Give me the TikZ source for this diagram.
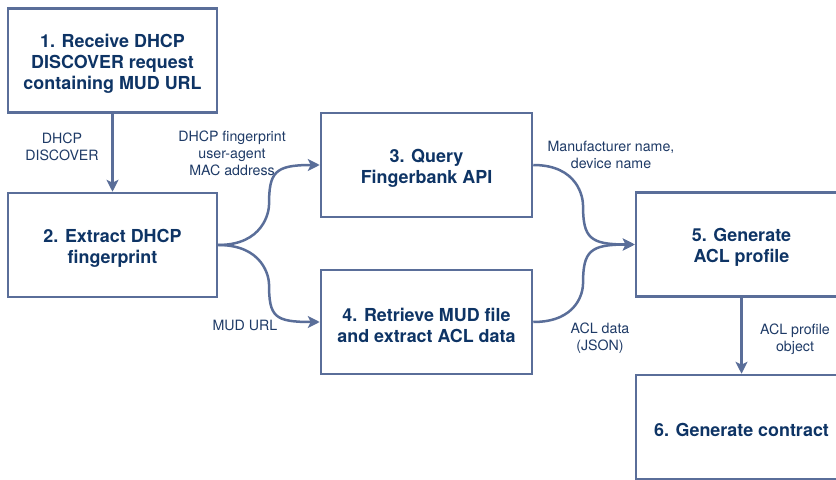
\documentclass[tikz,border=0pt]{standalone}
\usepackage{fontspec}
\setmainfont{TeX Gyre Heros}
\usetikzlibrary{arrows.meta}
\definecolor{edgec}{HTML}{5A6E99}
\definecolor{titlec}{HTML}{0E3465}
\definecolor{labelc}{HTML}{1E3A66}
\tikzset{
  stepbox/.style={draw=edgec, line width=2.5bp, fill=white, minimum width=#1, minimum height=104bp, inner sep=0pt},
  boxtext/.style={align=center, text=titlec, font=\fontsize{17.9bp}{21bp}\selectfont\bfseries, inner sep=0pt, yshift=-3bp},
  lbl/.style={align=center, text=labelc, font=\fontsize{14.2bp}{17bp}\selectfont, inner sep=0pt},
  conn/.style={draw=edgec, line width=2.5bp, -{Stealth[length=12bp,width=12bp,inset=3bp]}},
}
\begin{document}
\begin{tikzpicture}[x=1bp,y=-1bp]
\useasboundingbox (0,0) rectangle (836,480);
\node[stepbox=209bp] (b1) at (112.5,60.5) {};
\node[stepbox=209bp] (b2) at (112.5,245) {};
\node[stepbox=211bp] (b3) at (426.5,165) {};
\node[stepbox=211bp] (b4) at (426.5,322) {};
\node[stepbox=211bp] (b5) at (741.5,244.5) {};
\node[stepbox=211bp] (b6) at (741.5,427) {};
\node[boxtext] (t1) at (b1.center) {1. Receive DHCP\\DISCOVER request\\containing MUD URL};
\node[boxtext] (t2) at (b2.center) {2. Extract DHCP\\fingerprint};
\node[boxtext] (t3) at (b3.center) {3. Query\\Fingerbank API};
\node[boxtext] (t4) at (b4.center) {4. Retrieve MUD file\\and extract ACL data};
\node[boxtext] (t5) at (b5.center) {5. Generate\\ACL profile};
\node[boxtext] (t6) at (b6.center) {6. Generate contract};

\node[lbl] (l12) at (62,147) {DHCP\\DISCOVER};
\node[lbl] (l23) at (232,153) {DHCP fingerprint\\user-agent\\MAC address};
\node[lbl] (l24) at (245,325) {MUD URL};
\node[lbl] (l35) at (611,155) {Manufacturer name,\\device name};
\node[lbl] (l45) at (600,338) {ACL data\\(JSON)};
\node[lbl] (l56) at (795,339) {ACL profile\\object};

\draw[conn] (b1.south) -- (b2.north);
\draw[conn] (b5.south) -- (b6.north);
\draw[conn] (b2.east) .. controls +(45,0) and +(0,7) .. (269,205) .. controls +(0,-33) and +(-45,0) .. (b3.west);
\draw[conn] (b2.east) .. controls +(45,0) and +(0,-7) .. (269,284) .. controls +(0,33) and +(-45,0) .. (b4.west);
\draw[conn] (b3.east) .. controls +(45,0) and +(0,-7) .. (583,205) .. controls +(0,33) and +(-45,0) .. (b5.west);
\draw[conn] (b4.east) .. controls +(45,0) and +(0,7) .. (583,284) .. controls +(0,-33) and +(-45,0) .. (b5.west);
\end{tikzpicture}
\end{document}
